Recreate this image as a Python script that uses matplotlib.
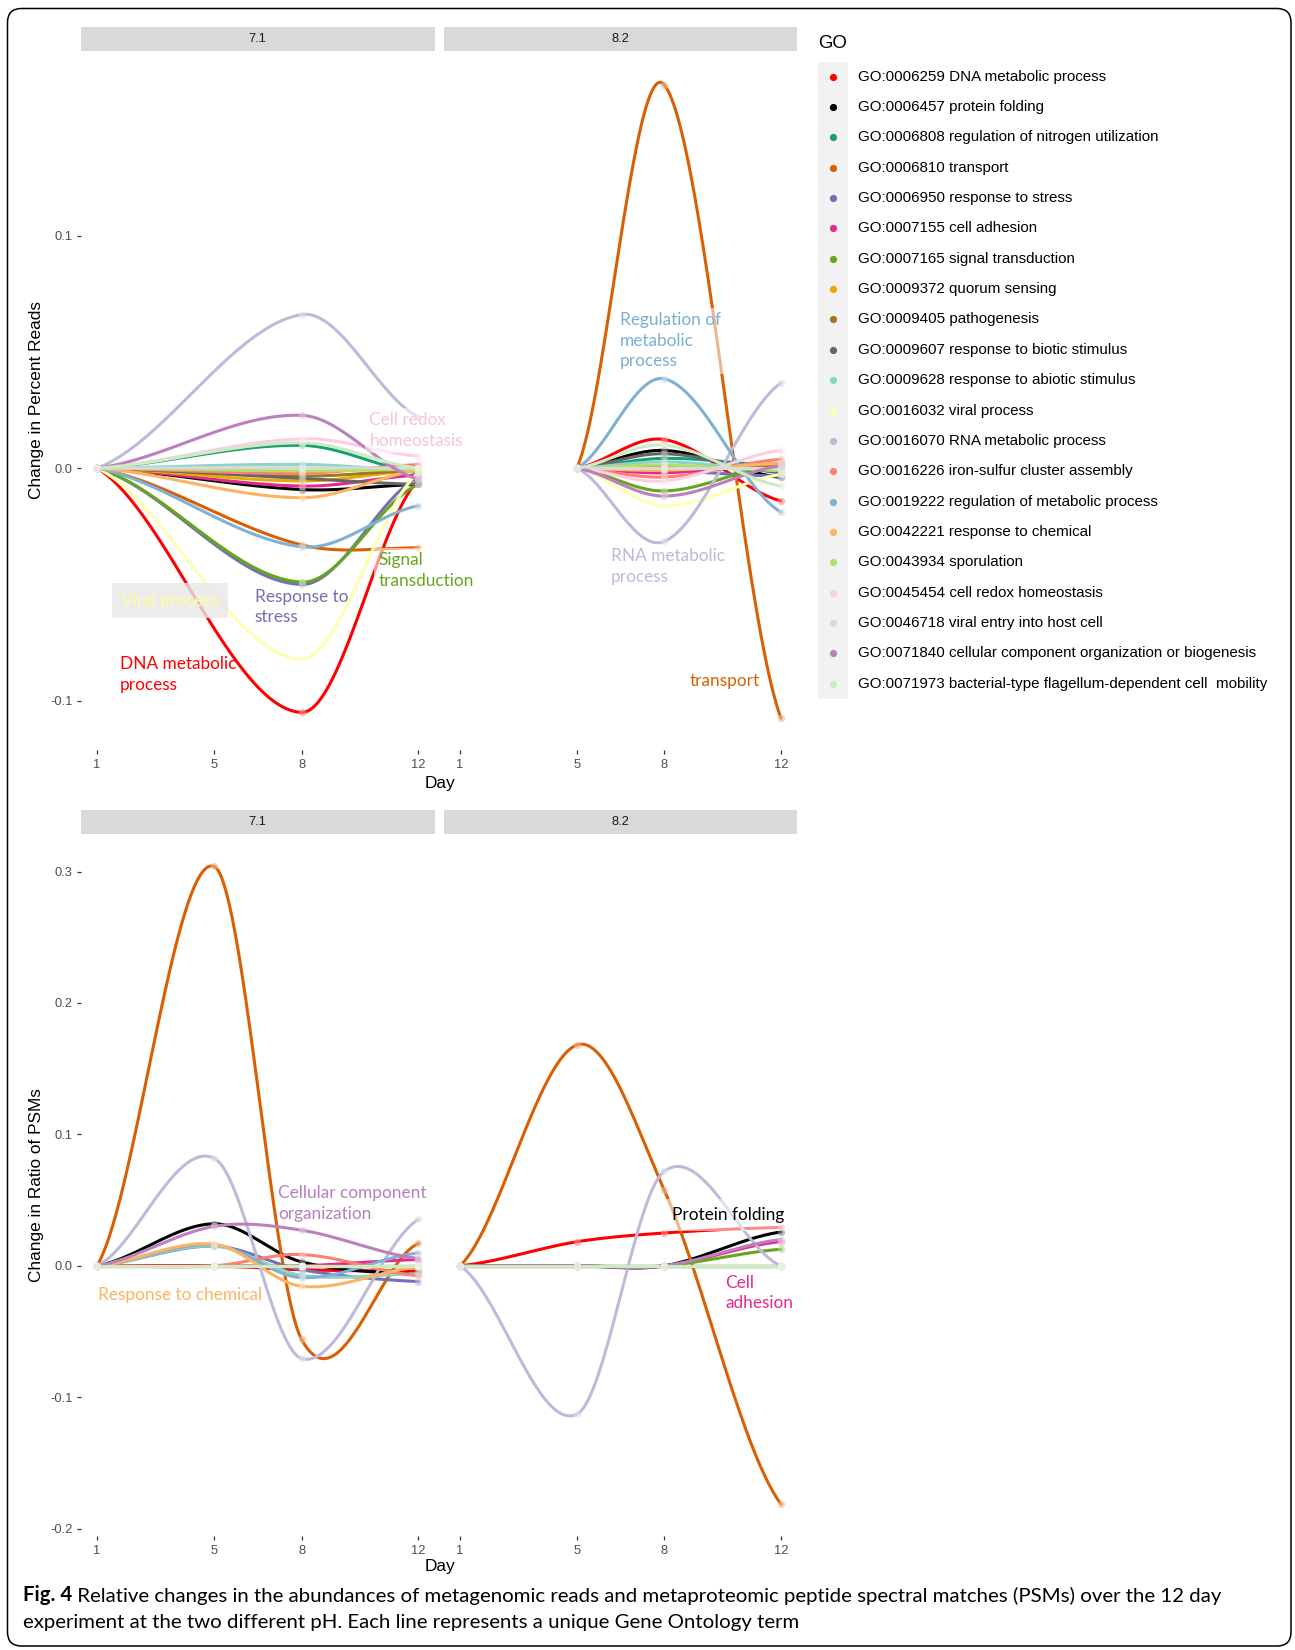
import numpy as np
import matplotlib.pyplot as plt
from matplotlib.patches import FancyBboxPatch, Rectangle

plt.rcParams['font.family'] = ['Liberation Sans', 'DejaVu Sans']

go_terms = [
    "GO:0006259 DNA metabolic process",
    "GO:0006457 protein folding",
    "GO:0006808 regulation of nitrogen utilization",
    "GO:0006810 transport",
    "GO:0006950 response to stress",
    "GO:0007155 cell adhesion",
    "GO:0007165 signal transduction",
    "GO:0009372 quorum sensing",
    "GO:0009405 pathogenesis",
    "GO:0009607 response to biotic stimulus",
    "GO:0009628 response to abiotic stimulus",
    "GO:0016032 viral process",
    "GO:0016070 RNA metabolic process",
    "GO:0016226 iron-sulfur cluster assembly",
    "GO:0019222 regulation of metabolic process",
    "GO:0042221 response to chemical",
    "GO:0043934 sporulation",
    "GO:0045454 cell redox homeostasis",
    "GO:0046718 viral entry into host cell",
    "GO:0071840 cellular component organization or biogenesis",
    "GO:0071973 bacterial-type flagellum-dependent cell  mobility",
]
go_colors = [
    "#FF0000", "#000000", "#1B9E77", "#D95F02", "#7570B3", "#E7298A", "#66A61E",
    "#E6AB02", "#A6761D", "#666666", "#8DD3C7", "#FFFFB3", "#BEBADA", "#FB8072",
    "#80B1D3", "#FDB462", "#B3DE69", "#FCCDE5", "#D9D9D9", "#BC80BD", "#CCEBC5",
]

day_ticks = [1, 5, 8, 12]
days_reads_71 = [1, 8, 12]
days_reads_82 = [5, 8, 12]
days_psm = [1, 5, 8, 12]

# change in percent reads, one row per GO term (same order as go_terms)
reads_71 = [
    [0, -0.105, -0.005],
    [0, -0.0092, -0.007],
    [0, 0.0098, -0.002],
    [0, -0.033, -0.0343],
    [0, -0.050, -0.004],
    [0, -0.0077, -0.003],
    [0, -0.049, -0.007],
    [0, -0.0055, -0.001],
    [0, -0.0034, -0.001],
    [0, -0.0044, -0.007],
    [0, 0.0016, -0.001],
    [0, -0.082, -0.002],
    [0, 0.066, 0.0222],
    [0, -0.0022, 0.0015],
    [0, -0.0338, -0.0162],
    [0, -0.0127, -0.001],
    [0, -0.0012, -0.0005],
    [0, 0.0126, 0.0052],
    [0, 0.0002, 0.0],
    [0, 0.0227, -0.0048],
    [0, 0.0109, 0.0],
]
reads_82 = [
    [0, 0.0123, -0.0141],
    [0, 0.0076, -0.004],
    [0, 0.0042, 0.001],
    [0, 0.1648, -0.1075],
    [0, -0.001, -0.0035],
    [0, -0.002, 0.002],
    [0, -0.0098, 0.002],
    [0, 0.0, 0.0],
    [0, 0.0005, 0.001],
    [0, 0.0062, -0.002],
    [0, 0.0027, -0.001],
    [0, -0.0162, -0.0027],
    [0, -0.0315, 0.0366],
    [0, -0.0038, 0.0038],
    [0, 0.0384, -0.0189],
    [0, -0.0009, 0.002],
    [0, 0.0013, -0.001],
    [0, -0.0055, 0.0077],
    [0, 0.0, 0.0],
    [0, -0.012, 0.001],
    [0, 0.0099, -0.0077],
]

# change in ratio of PSMs
psm_71 = [
    [0, 0.0, -0.003, -0.004],
    [0, 0.032, 0.003, -0.0064],
    [0, 0.0, 0.0, 0.0],
    [0, 0.304, -0.056, 0.017],
    [0, 0.015, -0.003, -0.012],
    [0, 0.0, 0.0, 0.0048],
    [0, 0.0, 0.0, 0.0],
    [0, 0.0, 0.0, 0.0],
    [0, 0.0, 0.0, 0.0],
    [0, 0.0, 0.0, 0.0],
    [0, 0.015, -0.0072, -0.006],
    [0, 0.0, 0.0, 0.0],
    [0, 0.082, -0.0705, 0.0353],
    [0, 0.0, 0.0086, -0.0076],
    [0, 0.016, -0.009, 0.0098],
    [0, 0.0165, -0.0155, -0.001],
    [0, 0.0, 0.0, 0.0],
    [0, 0.0, 0.0, 0.0],
    [0, 0.0, 0.0, 0.0],
    [0, 0.030, 0.0271, 0.0055],
    [0, 0.0, 0.0, 0.0],
]
psm_82 = [
    [0, 0.0183, 0.025, 0.0292],
    [0, 0.0, 0.0, 0.0258],
    [0, 0.0, 0.0, 0.0],
    [0, 0.168, 0.0576, -0.1813],
    [0, 0.0, 0.0, 0.0],
    [0, 0.0, 0.0, 0.0185],
    [0, 0.0, 0.0, 0.0126],
    [0, 0.0, 0.0, 0.0],
    [0, 0.0, 0.0, 0.0],
    [0, 0.0, 0.0, 0.0],
    [0, 0.0, 0.0, 0.0],
    [0, 0.0, 0.0, 0.0],
    [0, -0.113, 0.072, 0.0],
    [0, 0.0, 0.0, 0.0],
    [0, 0.0, 0.0, 0.0],
    [0, 0.0, 0.0, 0.0],
    [0, 0.0, 0.0, 0.0],
    [0, 0.0, 0.0, 0.0],
    [0, 0.0, 0.0, 0.0],
    [0, 0.0, 0.0, 0.02],
    [0, 0.0, 0.0, 0.0],
]

reads_ticks = [-0.1, 0.0, 0.1]
psm_ticks = [-0.2, -0.1, 0.0, 0.1, 0.2, 0.3]

W, H = 1295, 1650
LABEL_FONT = ['Lato', 'DejaVu Sans']


def smooth_curve(x, y, steps=60):
    """Cubic Hermite curve through the points: Catmull-Rom slopes inside,
    half the end secant at both ends so the curve eases in and out."""
    x = np.asarray(x, float)
    y = np.asarray(y, float)
    sec = np.diff(y) / np.diff(x)
    m = np.empty_like(y)
    m[1:-1] = (y[2:] - y[:-2]) / (x[2:] - x[:-2])
    m[0] = 0.5 * sec[0]
    m[-1] = 0.5 * sec[-1]
    xs, ys = [], []
    for k in range(len(x) - 1):
        h = x[k + 1] - x[k]
        t = np.linspace(0, 1, steps, endpoint=(k == len(x) - 2))
        h00 = 2 * t**3 - 3 * t**2 + 1
        h10 = t**3 - 2 * t**2 + t
        h01 = -2 * t**3 + 3 * t**2
        h11 = t**3 - t**2
        ys.append(h00 * y[k] + h10 * h * m[k] + h01 * y[k + 1] + h11 * h * m[k + 1])
        xs.append(x[k] + h * t)
    return np.column_stack([np.concatenate(xs), np.concatenate(ys)])


def lighten(c, amount):
    rgb = np.array(plt.matplotlib.colors.to_rgb(c))
    return tuple(rgb + (1 - rgb) * amount)


def frac(x0, y0, x1, y1):
    # pixel box measured from the top-left corner -> figure fraction
    return [x0 / W, 1 - y1 / H, (x1 - x0) / W, (y1 - y0) / H]


fig = plt.figure(figsize=(W / 100, H / 100), dpi=100)

panel_x = [(81, 434.5), (444, 797)]
rows = [
    dict(series=[(days_reads_71, reads_71, "7.1"), (days_reads_82, reads_82, "8.2")],
         y0=50.5, y1=750, ticks=reads_ticks, ylabel="Change in Percent Reads", day_y=783),
    dict(series=[(days_psm, psm_71, "7.1"), (days_psm, psm_82, "8.2")],
         y0=834, y1=1536, ticks=psm_ticks, ylabel="Change in Ratio of PSMs", day_y=1567),
]

# text callouts: (row, panel, text, colour, day, value, background, box padding)
white_bg = (1, 1, 1, 0.55)
notes = [
    (0, 0, "Cell redox\nhomeostasis", "#F8C3DC", 10.32, 0.0162, white_bg, 0.25),
    (0, 0, "Signal\ntransduction", "#66A61E", 10.64, -0.0441, white_bg, 0.25),
    (0, 0, "Viral process", "#FFFF99", 1.83, -0.057, (0.91, 0.91, 0.91, 0.8), 0.55),
    (0, 0, "Response to\nstress", "#7570B3", 6.40, -0.0597, None, 0),
    (0, 0, "DNA metabolic\nprocess", "#FF0000", 1.79, -0.0887, None, 0),
    (0, 1, "Regulation of\nmetabolic\nprocess", "#7BAFD4", 6.47, 0.0547, white_bg, 0.25),
    (0, 1, "RNA metabolic\nprocess", "#BEBADA", 6.18, -0.0423, None, 0),
    (0, 1, "transport", "#D95F02", 8.88, -0.0914, white_bg, 0.3),
    (1, 0, "Cellular component\norganization", "#B77FC0", 7.19, 0.0473, None, 0),
    (1, 0, "Response to chemical", "#FDB462", 1.04, -0.0224, None, 0),
    (1, 1, "Protein folding", "#000000", 8.27, 0.0385, white_bg, 0.45),
    (1, 1, "Cell\nadhesion", "#E7298A", 10.1, -0.0208, white_bg, 0.25),
]

for r, row in enumerate(rows):
    curves = [[smooth_curve(days, vals) for vals in table] for days, table, _ in row["series"]]
    all_y = np.concatenate([c[:, 1] for panel in curves for c in panel])
    lo, hi = all_y.min(), all_y.max()
    pad = 0.05 * (hi - lo)
    for p, (days, table, strip) in enumerate(row["series"]):
        x0, x1 = panel_x[p]
        ax = fig.add_axes(frac(x0, row["y0"], x1, row["y1"]))
        ax.set_facecolor('none')
        for i, vals in enumerate(table):
            c = curves[p][i]
            ax.plot(c[:, 0], c[:, 1], color=go_colors[i], lw=2.2,
                    solid_capstyle='round', zorder=2 + i * 0.01)
        for i, vals in enumerate(table):
            ax.scatter(days, vals, s=28, color=lighten(go_colors[i], 0.55),
                       alpha=0.6, lw=0, zorder=3)
        ax.set_xlim(0.45, 12.55)
        ax.set_ylim(lo - pad, hi + pad)
        ax.set_xticks(day_ticks)
        ax.set_xticklabels([str(d) for d in day_ticks])
        if p == 0:
            ax.set_yticks(row["ticks"])
            ax.set_yticklabels([f"{v:.1f}" for v in row["ticks"]])
        else:
            ax.set_yticks([])
        for side in ax.spines.values():
            side.set_visible(False)
        ax.tick_params(direction='out', length=3.2, width=0.9, color='#333333',
                       labelcolor='#4D4D4D', labelsize=9.3, pad=3)

        for rr, pp, txt, col, dx, dy, bg, bpad in notes:
            if rr == r and pp == p:
                kw = {}
                if bg is not None:
                    kw['bbox'] = dict(boxstyle=f'square,pad={bpad}', facecolor=bg,
                                      edgecolor='none')
                ax.text(dx, dy, txt, color=col, fontsize=12.4, family=LABEL_FONT,
                        ha='left', va='center', linespacing=1.35, zorder=5, **kw)

        sax = fig.add_axes(frac(x0, row["y0"] - 24, x1, row["y0"]))
        sax.set_facecolor('#D9D9D9')
        sax.set_xticks([])
        sax.set_yticks([])
        for side in sax.spines.values():
            side.set_visible(False)
        sax.text(0.5, 0.5, strip, ha='center', va='center', fontsize=9.3,
                 color='#1A1A1A', transform=sax.transAxes)

    fig.text(37 / W, 1 - (row["y0"] + row["y1"]) / 2 / H, row["ylabel"],
             rotation=90, ha='center', va='center', fontsize=12.4)
    fig.text(440 / W, 1 - row["day_y"] / H, "Day", ha='center', va='center', fontsize=12.4)

# overlay in pixel units for the legend, caption and frame
ov = fig.add_axes([0, 0, 1, 1])
ov.set_xlim(0, W)
ov.set_ylim(H, 0)
ov.axis('off')

ov.text(818, 44, "GO", fontsize=13.4, va='center', ha='left')
key_top, key_h = 61.5, 30.35
ov.add_patch(Rectangle((818, key_top), 30, key_h * len(go_terms),
                       facecolor='#F2F2F2', edgecolor='none'))
for i, (term, col) in enumerate(zip(go_terms, go_colors)):
    yc = key_top + key_h * (i + 0.5)
    ov.plot([833.3], [yc], 'o', ms=5.2, color=col, mec='none')
    ov.text(858.3, yc, term, fontsize=10.9, va='center', ha='left', color='black')

ov.add_patch(FancyBboxPatch((7.5, 8.5), 1283.5, 1637.5,
                            boxstyle='round,pad=0,rounding_size=14',
                            facecolor='none', edgecolor='black', lw=1.1))

cap = ov.text(23, 1601, "Fig. 4", fontsize=14.7, fontweight='bold', family=LABEL_FONT,
              ha='left', va='baseline')
ov.annotate(" Relative changes in the abundances of metagenomic reads and metaproteomic "
            "peptide spectral matches (PSMs) over the 12 day",
            xy=(1, 0), xycoords=cap, ha='left', va='bottom', fontsize=14.7,
            family=LABEL_FONT)
ov.text(23, 1628, "experiment at the two different pH. Each line represents a unique "
        "Gene Ontology term", fontsize=14.7, family=LABEL_FONT, ha='left', va='baseline')

fig.savefig("out.png", dpi=100)
